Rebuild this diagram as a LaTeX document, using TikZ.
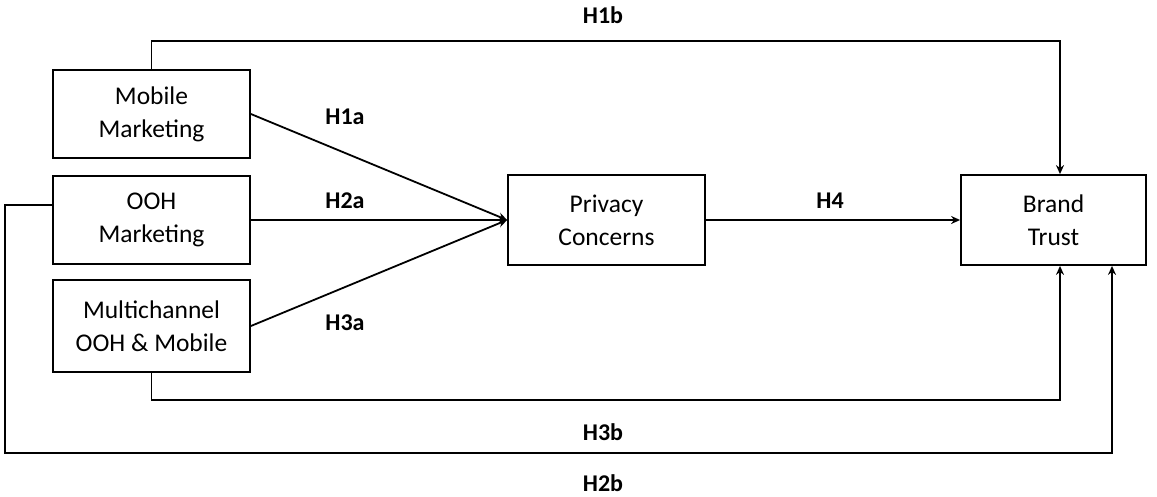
\documentclass[tikz,border=0pt]{standalone}
\usepackage{fontspec}
\setmainfont{Carlito}
\usetikzlibrary{arrows.meta,positioning}

\begin{document}
\begin{tikzpicture}[x=1pt,y=-1pt,line width=1.8pt,
        box/.style={draw,align=center,minimum width=197pt,minimum height=88pt,inner sep=2pt,
                    font=\fontsize{25.5}{33}\selectfont},
        hyp/.style={font=\fontsize{24}{28}\selectfont\bfseries},
        arr/.style={-{Stealth[length=9pt,width=8pt]}}]
            \useasboundingbox (0,0) rectangle (1157,496);

            \node[box] (mob)   at (151.5,114) {Mobile\\Marketing};
            \node[box] (ooh)   at (151.5,220) {OOH\\Marketing};
            \node[box,minimum height=92pt] (multi) at (151.5,326) {Multichannel\\OOH \& Mobile};
            \node[box,minimum height=90pt] (priv)  at (606.5,220) {Privacy\\Concerns};
            \node[box,minimum width=185pt,minimum height=90pt] (brand) at (1053.5,220) {Brand\\Trust};

            \coordinate (h1b)  at (1060,41);
            \coordinate (h3b)  at (1060,400);
            \coordinate (h2bl) at (5,453);
            \coordinate (h2br) at (1112,453);

            \node[hyp] (lh1a) at (345,117) {H1a};
            \node[hyp] (lh2a) at (345,201) {H2a};
            \node[hyp] (lh3a) at (345,323) {H3a};
            \node[hyp] (lh4)  at (830,201) {H4};
            \node[hyp] (lh1b) at (603,15)  {H1b};
            \node[hyp] (lh3b) at (603,432) {H3b};
            \node[hyp] (lh2b) at (603,483) {H2b};

            \begin{scope}[arr]
                \draw (mob.east)   -- (priv.west);
                \draw (ooh.east)   -- (priv.west);
                \draw (multi.east) -- (priv.west);
                \draw (priv.east)  -- (brand.west);
                \draw (mob.north) |- (h1b) -- (h1b |- brand.north);
                \draw (multi.south) |- (h3b) -- (h3b |- brand.south);
                \draw ([yshift=15pt]ooh.west) -| (h2bl) -- (h2br) -- (h2br |- brand.south);
            \end{scope}
        \end{tikzpicture}
\end{document}
